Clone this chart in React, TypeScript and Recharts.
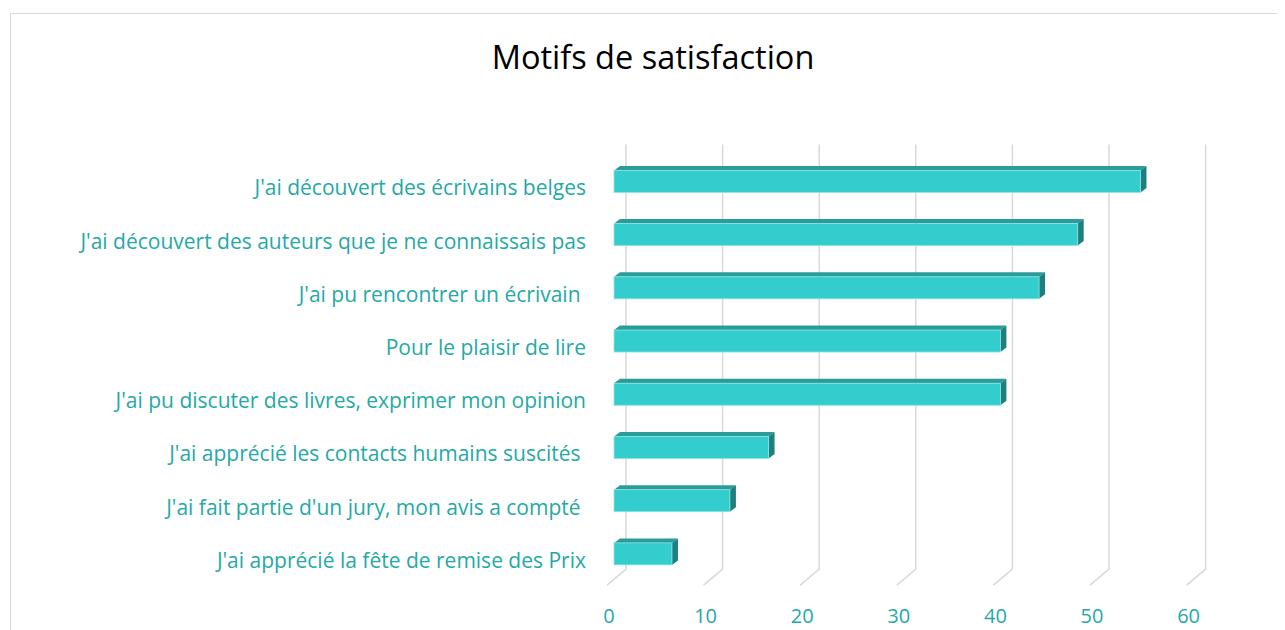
import React from 'react';
import { BarChart, Bar, XAxis, YAxis, CartesianGrid } from 'recharts';

// motifs, de haut en bas
const categories = [
  "J'ai découvert des écrivains belges",
  "J'ai découvert des auteurs que je ne connaissais pas",
  "J'ai pu rencontrer un écrivain ",
  'Pour le plaisir de lire',
  "J'ai pu discuter des livres, exprimer mon opinion",
  "J'ai apprécié les contacts humains suscités ",
  "J'ai fait partie d'un jury, mon avis a compté ",
  "J'ai apprécié la fête de remise des Prix",
];
const values = [54.5, 48, 44, 40, 40, 16, 12, 6];
const xTicks = [0, 10, 20, 30, 40, 50, 60];

const data = categories.map((name, i) => ({ name, value: values[i] }));

const TEAL_TEXT = '#24a9a6';
const FONT = '"Open Sans", "Noto Sans", sans-serif';

// fake 3D : face avant + dessus + côté
const Bar3D = (props: any) => {
  const { x, y, width, height } = props;
  const dx = 6;
  const dy = 4.5;
  return (
    <g>
      <path
        d={`M${x},${y} L${x + dx},${y - dy} L${x + width + dx},${y - dy} L${x + width},${y} Z`}
        fill="#2a9c9a"
      />
      <path
        d={`M${x + width},${y} L${x + width + dx},${y - dy} L${x + width + dx},${y + height - dy} L${x + width},${y + height} Z`}
        fill="#1f7f7d"
      />
      <rect x={x} y={y} width={width} height={height} fill="#33cdcd" stroke="#8fe3e3" strokeWidth={0.8} />
    </g>
  );
};

// lignes du mur du fond + plancher en biais
const GridLine = (props: any) => {
  const { x1, y1, y2 } = props;
  const back = x1 + 12;
  return (
    <path
      key={props.key}
      d={`M${back},${y1 - 10} L${back},${y2 - 11} L${x1 - 7},${y2 + 5}`}
      stroke="#d9d9d9"
      strokeWidth={1.5}
      fill="none"
    />
  );
};

const CatTick = (props: any) => {
  const { x, y, payload } = props;
  return (
    <text
      x={x}
      y={y + 7}
      dy="0.35em"
      textAnchor="end"
      fill={TEAL_TEXT}
      fontSize={21}
      fontFamily={FONT}
      style={{ whiteSpace: 'pre' }}
    >
      {payload.value}
    </text>
  );
};

const ValueTick = (props: any) => {
  const { x, y, payload } = props;
  return (
    <text x={x - 5} y={y} dy="0.35em" textAnchor="middle" fill={TEAL_TEXT} fontSize={20} fontFamily={FONT}>
      {payload.value}
    </text>
  );
};

export default function App() {
  return (
    <div style={{ position: 'relative', width: 1277, height: 622, overflow: 'hidden', background: '#fff' }}>
      <div
        style={{
          position: 'absolute',
          left: 2,
          top: 5,
          width: 1400,
          height: 800,
          border: '1.5px solid #d9d9d9',
        }}
      />
      <div
        style={{
          position: 'absolute',
          left: 0,
          top: 26,
          width: 1290,
          textAlign: 'center',
          fontFamily: FONT,
          fontSize: 32.5,
          color: '#000',
        }}
      >
        Motifs de satisfaction
      </div>
      <div style={{ position: 'absolute', left: 0, top: 0 }}>
        <BarChart
          width={1277}
          height={622}
          data={data}
          layout="vertical"
          margin={{ top: 146.4, right: 91.4, bottom: 9.9, left: 0 }}
        >
          <CartesianGrid horizontal={false} vertical={GridLine} />
          <XAxis
            type="number"
            domain={[0, 60]}
            ticks={xTicks}
            axisLine={false}
            tickLine={false}
            tickSize={0}
            tickMargin={36}
            height={40}
            tick={<ValueTick />}
          />
          <YAxis
            type="category"
            dataKey="name"
            width={606}
            axisLine={false}
            tickLine={false}
            tickSize={0}
            tickMargin={28}
            interval={0}
            tick={<CatTick />}
          />
          <Bar dataKey="value" barSize={22} shape={<Bar3D />} isAnimationActive={false} />
        </BarChart>
      </div>
    </div>
  );
}
